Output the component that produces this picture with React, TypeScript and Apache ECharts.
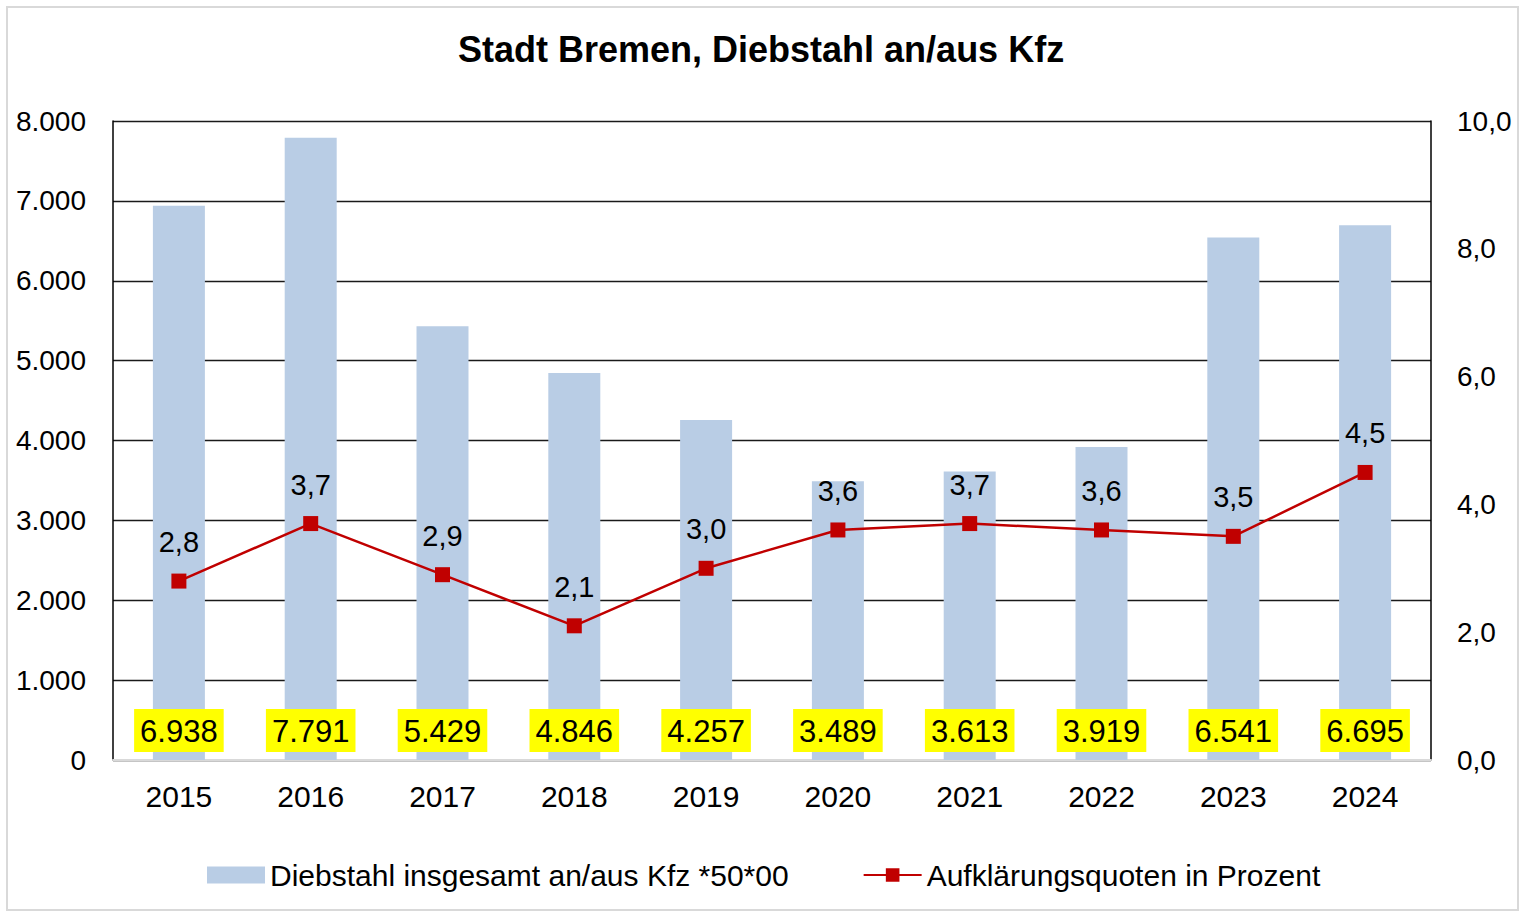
import React, { useEffect, useRef } from "react";
import * as echarts from "echarts";

const years = ["2015", "2016", "2017", "2018", "2019", "2020", "2021", "2022", "2023", "2024"];
const theftTotals = [6938, 7791, 5429, 4846, 4257, 3489, 3613, 3919, 6541, 6695];
const clearanceRates = [2.8, 3.7, 2.9, 2.1, 3.0, 3.6, 3.7, 3.6, 3.5, 4.5];
const barName = "Diebstahl insgesamt an/aus Kfz *50*00";
const lineName = "Aufklärungsquoten in Prozent";
const titleText = "Stadt Bremen, Diebstahl an/aus Kfz";

const FONT = "'Liberation Sans', Arial, Helvetica, sans-serif";
const thousands = (v: number) => String(Math.round(v)).replace(/\B(?=(\d{3})+(?!\d))/g, ".");
const comma1 = (v: number) => v.toFixed(1).replace(".", ",");

export default function App() {
  const ref = useRef<HTMLDivElement>(null);
  useEffect(() => {
    if (!ref.current) return;
    const chart = echarts.init(ref.current, null, { renderer: "svg" });
    chart.setOption({
      animation: false,
      backgroundColor: "#ffffff",
      textStyle: { fontFamily: FONT, color: "#000" },
      title: {
        text: titleText,
        left: 458,
        top: 31,
        padding: 0,
        textStyle: { fontFamily: FONT, fontSize: 36, fontWeight: "bold", color: "#000" },
      },
      graphic: [
        {
          type: "rect",
          shape: { x: 7, y: 7, width: 1511, height: 903 },
          style: { fill: "none", stroke: "#d9d9d9", lineWidth: 2 },
          silent: true,
        },
      ],
      legend: {
        top: 855,
        left: 202,
        itemWidth: 58,
        itemHeight: 17,
        itemGap: 74,
        textStyle: { fontFamily: FONT, fontSize: 30, color: "#000" },
        data: [{ name: barName, icon: "rect" }, { name: lineName }],
      },
      grid: { left: 113, right: 91, top: 121, bottom: 155, containLabel: false },
      xAxis: {
        type: "category",
        data: years,
        boundaryGap: true,
        axisLine: { show: true, lineStyle: { color: "#d9d9d9", width: 2 } },
        axisTick: { show: false },
        axisLabel: { fontFamily: FONT, fontSize: 30, color: "#000", margin: 21 },
        splitLine: { show: false },
      },
      yAxis: [
        {
          type: "value",
          min: 0,
          max: 8000,
          interval: 1000,
          axisLine: { show: true, lineStyle: { color: "#000", width: 1.5 } },
          axisTick: { show: false },
          axisLabel: { fontFamily: FONT, fontSize: 28, color: "#000", margin: 27, formatter: thousands },
          splitLine: { show: true, lineStyle: { color: "#1a1a1a", width: 1.3 } },
        },
        {
          type: "value",
          min: 0,
          max: 10,
          interval: 2,
          axisLine: { show: true, lineStyle: { color: "#000", width: 1.5 } },
          axisTick: { show: false },
          axisLabel: { fontFamily: FONT, fontSize: 28, color: "#000", margin: 26, formatter: comma1 },
          splitLine: { show: false },
        },
      ],
      series: [
        {
          name: barName,
          type: "bar",
          data: theftTotals,
          barWidth: 52,
          itemStyle: { color: "#b9cde5" },
          label: {
            show: true,
            position: "insideBottom",
            distance: 8,
            formatter: (p: any) => thousands(p.value),
            fontFamily: FONT,
            fontSize: 31,
            color: "#000",
            backgroundColor: "#ffff00",
            padding: [7, 6, 5, 6],
          },
          z: 2,
        },
        {
          name: lineName,
          type: "line",
          yAxisIndex: 1,
          data: clearanceRates,
          symbol: "rect",
          symbolSize: 15,
          lineStyle: { color: "#c00000", width: 2.5 },
          itemStyle: { color: "#c00000" },
          label: {
            show: true,
            position: "top",
            distance: 17,
            formatter: (p: any) => comma1(p.value),
            fontFamily: FONT,
            fontSize: 29,
            color: "#000",
          },
          z: 5,
        },
      ],
    });
    return () => chart.dispose();
  }, []);
  return (
    <div
      ref={ref}
      style={{ position: "fixed", left: 0, top: 0, width: 1522, height: 915, background: "#fff" }}
    />
  );
}
